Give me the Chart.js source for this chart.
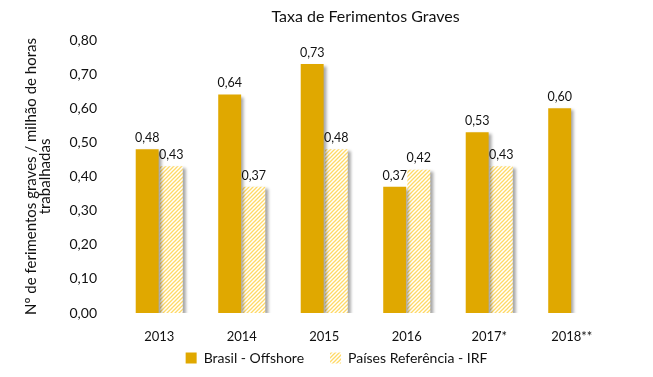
<!DOCTYPE html>
<html>
<head>
<meta charset="utf-8">
<script src="https://cdn.jsdelivr.net/npm/chart.js@4.4.0/dist/chart.umd.min.js"></script>
<style>
    html, body { margin: 0; padding: 0; background: #fff; }
    #wrap { width: 653px; height: 377px; }
</style>
</head>
<body>
<div id="wrap"><canvas id="chart" width="653" height="377"></canvas></div>
<script>
// chart data
const categories = ['2013', '2014', '2015', '2016', '2017*', '2018**'];
const brasilValues = [0.48, 0.64, 0.73, 0.37, 0.53, 0.60];
const irfValues = [0.43, 0.37, 0.48, 0.42, 0.43, null];
const yTicks = [0, 0.1, 0.2, 0.3, 0.4, 0.5, 0.6, 0.7, 0.8];

const FONT = 'Lato, "Open Sans", sans-serif';
const GOLD = '#E0A800';
const INK = '#111';
const LEGEND_PAD = 26;

// light yellow diagonal hatch used for the IRF series
function makeHatch() {
    const c = document.createElement('canvas');
    c.width = 4;
    c.height = 4;
    const g = c.getContext('2d');
    g.fillStyle = '#fff';
    g.fillRect(0, 0, 4, 4);
    g.strokeStyle = '#FFD966';
    g.lineWidth = 1.3;
    g.beginPath();
    g.moveTo(0, 4); g.lineTo(4, 0);
    g.moveTo(-1, 1); g.lineTo(1, -1);
    g.moveTo(3, 5); g.lineTo(5, 3);
    g.stroke();
    return g.createPattern(c, 'repeat');
}
const hatch = makeHatch();

const fmt = v => v.toFixed(2).replace('.', ',');

// soft shadow under the bars
const shadowPlugin = {
    id: 'barShadow',
    beforeDatasetsDraw(chart) {
        const ctx = chart.ctx;
        ctx.save();
        ctx.shadowColor = 'rgba(0,0,0,0.35)';
        ctx.shadowBlur = 3;
        ctx.shadowOffsetX = 3;
        ctx.shadowOffsetY = 2;
    },
    afterDatasetsDraw(chart) {
        chart.ctx.restore();
    }
};

// keep the legend short and nudge it to where the original sits
const legendPlugin = {
    id: 'legendPlace',
    afterInit(chart) {
        const lg = chart.legend;
        const fit = lg.fit;
        lg.fit = function () {
            fit.call(this);
            this.height = 34;
        };
    },
    afterLayout(chart) {
        const lg = chart.legend;
        lg.left += 30;
        lg.right += 30;
        lg.top = 358 - LEGEND_PAD - 7;
    }
};

// value labels above bars + title centred on plot area
const labelPlugin = {
    id: 'valueLabels',
    afterDraw(chart) {
        const ctx = chart.ctx;
        ctx.save();
        ctx.fillStyle = INK;
        ctx.textAlign = 'center';
        ctx.textBaseline = 'bottom';
        ctx.font = '12.5px ' + FONT;
        chart.data.datasets.forEach((ds, i) => {
            chart.getDatasetMeta(i).data.forEach((bar, j) => {
                const v = ds.data[j];
                if (v == null) return;
                ctx.fillText(fmt(v), bar.x, bar.y - 5);
            });
        });
        const area = chart.chartArea;
        ctx.font = '16px ' + FONT;
        ctx.textBaseline = 'middle';
        ctx.fillText('Taxa de Ferimentos Graves', (area.left + area.right) / 2, 17);
        ctx.restore();
    }
};

new Chart(document.getElementById('chart'), {
    type: 'bar',
    data: {
        labels: categories,
        datasets: [
            {
                label: 'Brasil - Offshore',
                data: brasilValues,
                backgroundColor: GOLD,
                barPercentage: 0.95,
                categoryPercentage: 0.585
            },
            {
                label: 'Países Referência - IRF',
                data: irfValues,
                backgroundColor: hatch,
                barPercentage: 0.95,
                categoryPercentage: 0.585
            }
        ]
    },
    options: {
        responsive: false,
        animation: false,
        layout: { padding: { left: 0, right: 40, top: 40, bottom: 0 } },
        plugins: {
            title: { display: false },
            tooltip: { enabled: false },
            legend: {
                position: 'bottom',
                labels: {
                    font: { family: FONT, size: 14 },
                    color: INK,
                    boxWidth: 11,
                    boxHeight: 11,
                    padding: LEGEND_PAD
                }
            }
        },
        scales: {
            x: {
                grid: { display: false },
                border: { display: false },
                ticks: { color: INK, font: { family: FONT, size: 13 }, padding: 8 },
                afterFit(scale) { scale.height = 30; }
            },
            y: {
                min: 0,
                max: 0.8,
                afterBuildTicks(scale) { scale.ticks = yTicks.map(v => ({ value: v })); },
                grid: { display: false },
                border: { display: false },
                ticks: {
                    color: INK,
                    font: { family: FONT, size: 14 },
                    padding: 13,
                    callback: v => fmt(v)
                },
                title: {
                    display: true,
                    text: ['Nº de ferimentos graves / milhão de horas', 'trabalhadas'],
                    color: INK,
                    font: { family: FONT, size: 15, lineHeight: 0.95 },
                    padding: { top: 24, bottom: 0 }
                },
                afterFit(scale) { scale.width = 118; }
            }
        }
    },
    plugins: [shadowPlugin, legendPlugin, labelPlugin]
});
</script>
</body>
</html>
